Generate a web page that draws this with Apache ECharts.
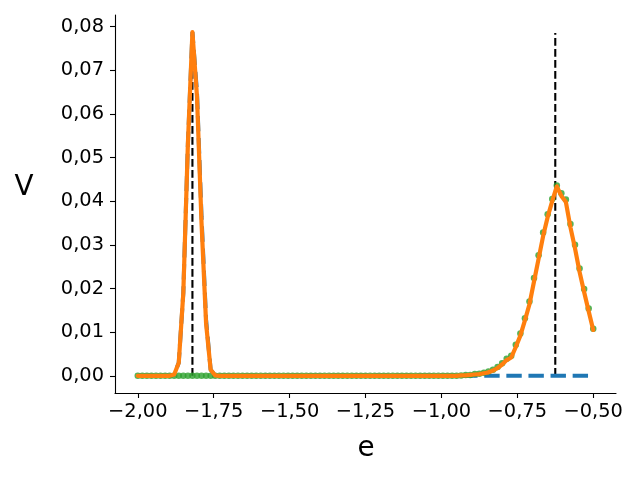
<!DOCTYPE html>
<html>
<head>
<meta charset="utf-8">
<script src="https://cdn.jsdelivr.net/npm/echarts@6/dist/echarts.min.js"></script>
<style>html,body{margin:0;padding:0;background:#fff}#c{width:640px;height:480px}</style>
</head>
<body>
<div id="c"></div>
<script>
// x grid: -2.00 to -0.50, step 0.015 (101 points)
const xStart = -2.0, xStep = 0.015, nPts = 101;
const xs = [];
for (let i = 0; i < nPts; i++) xs.push(+(xStart + i * xStep).toFixed(3));

// blue dashed: left peak only
const blueVals = [
  0,0,0,0,0,0,0,0,0.0003,0.0030,
  0.0190,0.0530,0.0787,0.0650,0.0365,0.0128,0.0014,0.0001,0,0,
  0,0,0,0,0,0,0,0,0,0,
  0,0,0,0,0,0,0,0,0,0,
  0,0,0,0,0,0,0,0,0,0,
  0,0,0,0,0,0,0,0,0,0,
  0,0,0,0,0,0,0,0,0,0,
  0,0,0,0,0,0,0,0,0,0,
  0,0,0,0,0,0,0,0,0,0,
  0,0,0,0,0,0,0,0,0,0,
  0
];
// green dots: right peak only
const greenVals = [
  0,0,0,0,0,0,0,0,0,0,
  0,0,0,0,0,0,0,0,0,0,
  0,0,0,0,0,0,0,0,0,0,
  0,0,0,0,0,0,0,0,0,0,
  0,0,0,0,0,0,0,0,0,0,
  0,0,0,0,0,0,0,0,0,0,
  0,0,0,0,0,0,0,0,0,0,
  0.0000,0.0001,0.0002,0.0002,0.0004,0.0005,0.0007,0.0010,0.0014,0.0020,
  0.0029,0.0039,0.0046,0.0071,0.0097,0.0132,0.0170,0.0224,0.0276,0.0328,
  0.0370,0.0405,0.0436,0.0418,0.0404,0.0348,0.0300,0.0246,0.0199,0.0154,
  0.0108
];
// orange solid: both peaks
const orangeVals = [
  0,0,0,0,0,0,0,0,0.0003,0.0030,
  0.0190,0.0530,0.0787,0.0640,0.0350,0.0120,0.0014,0.0001,0,0,
  0,0,0,0,0,0,0,0,0,0,
  0,0,0,0,0,0,0,0,0,0,
  0,0,0,0,0,0,0,0,0,0,
  0,0,0,0,0,0,0,0,0,0,
  0,0,0,0,0,0,0,0,0,0,
  0.0000,0.0001,0.0001,0.0002,0.0003,0.0004,0.0006,0.0008,0.0012,0.0018,
  0.0026,0.0036,0.0042,0.0066,0.0092,0.0127,0.0164,0.0216,0.0268,0.0320,
  0.0364,0.0400,0.0434,0.0412,0.0398,0.0340,0.0292,0.0238,0.0192,0.0148,
  0.0105
];
// vertical dashed markers
const vlineX = [-1.82, -0.625];
const vlineTop = 0.0785;

const xTicks = [-2.0, -1.75, -1.5, -1.25, -1.0, -0.75, -0.5];
const yTicks = [0, 0.01, 0.02, 0.03, 0.04, 0.05, 0.06, 0.07, 0.08];

const pair = (vals) => xs.map((x, i) => [x, vals[i]]);
const fmt = (v) => (v < 0 ? '\u2212' : '') + Math.abs(v).toFixed(2).replace('.', ',');

const font = 'DejaVu Sans';
const chart = echarts.init(document.getElementById('c'), null, {renderer: 'canvas'});

const series = [];
vlineX.forEach((vx) => {
  series.push({
    type: 'line', data: [[vx, 0], [vx, vlineTop]], symbol: 'none', z: 2,
    lineStyle: {color: '#000', width: 2.1, type: [7.7, 3.3]}, silent: true
  });
});
series.push({
  type: 'line', data: pair(blueVals), symbol: 'none', z: 3,
  lineStyle: {color: '#1f77b4', width: 4, type: [15.4, 6.7]}
});
series.push({
  type: 'scatter', data: pair(greenVals), symbol: 'circle', symbolSize: 6.5, z: 4,
  itemStyle: {color: '#2ca02c'}
});
series.push({
  type: 'line', data: pair(orangeVals), symbol: 'none', z: 5,
  lineStyle: {color: '#ff7f0e', width: 4.2, cap: 'round', join: 'round'}
});

chart.setOption({
  animation: false,
  backgroundColor: '#fff',
  grid: {left: 115, right: 24, top: 15, bottom: 87, containLabel: false},
  xAxis: {
    type: 'value', min: -2.075, max: -0.425,
    splitLine: {show: false},
    axisLine: {show: true, onZero: false, lineStyle: {color: '#000', width: 1.1}},
    axisTick: {show: true, length: 5, lineStyle: {color: '#000', width: 1.1}, customValues: xTicks},
    axisLabel: {show: true, customValues: xTicks, formatter: fmt, color: '#000',
      fontFamily: font, fontSize: 19.4, margin: 9}
  },
  yAxis: {
    type: 'value', min: -0.003935, max: 0.08264,
    splitLine: {show: false},
    axisLine: {show: true, onZero: false, lineStyle: {color: '#000', width: 1.1}},
    axisTick: {show: true, length: 5, lineStyle: {color: '#000', width: 1.1}, customValues: yTicks},
    axisLabel: {show: true, customValues: yTicks, formatter: fmt, color: '#000',
      fontFamily: font, fontSize: 19.4, margin: 11}
  },
  graphic: [
    {type: 'text', x: 24, y: 188,
      style: {text: 'V', fontFamily: font, fontSize: 27.8, fill: '#000', align: 'center', verticalAlign: 'middle'}},
    {type: 'text', x: 366, y: 449,
      style: {text: 'e', fontFamily: font, fontSize: 27.8, fill: '#000', align: 'center', verticalAlign: 'middle'}}
  ],
  series: series
});
</script>
</body>
</html>
